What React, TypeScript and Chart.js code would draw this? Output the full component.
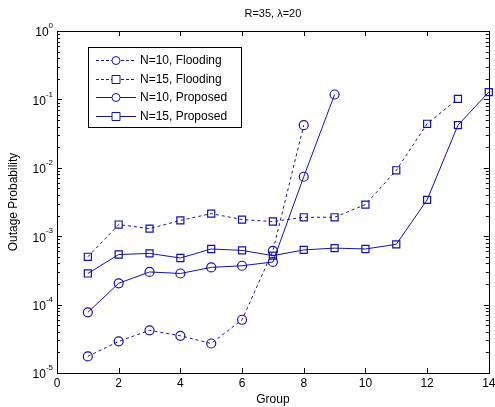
import React, { useEffect, useRef } from "react";
import { Chart, registerables } from "chart.js";

Chart.register(...registerables);

const groups = [1, 2, 3, 4, 5, 6, 7, 8, 9, 10, 11, 12, 13, 14];
const n10Flooding = [1.75e-5, 2.9e-5, 4.2e-5, 3.5e-5, 2.7e-5, 6.0e-5, 6.1e-4, 4.2e-2];
const n15Flooding = [5.0e-4, 1.48e-3, 1.29e-3, 1.7e-3, 2.14e-3, 1.75e-3, 1.64e-3, 1.89e-3, 1.89e-3, 2.9e-3, 9.2e-3, 4.4e-2, 1.02e-1];
const n10Proposed = [7.7e-5, 2.05e-4, 3.0e-4, 2.85e-4, 3.5e-4, 3.7e-4, 4.2e-4, 7.4e-3, 1.18e-1];
const n15Proposed = [2.85e-4, 5.4e-4, 5.6e-4, 4.8e-4, 6.5e-4, 6.2e-4, 5.2e-4, 6.3e-4, 6.7e-4, 6.5e-4, 7.6e-4, 3.4e-3, 4.2e-2, 1.28e-1];
const seriesNames = ["N=10, Flooding", "N=15, Flooding", "N=10, Proposed", "N=15, Proposed"];
const xTicks = [0, 2, 4, 6, 8, 10, 12, 14];
const yExponents = [-5, -4, -3, -2, -1, 0];
const titleText = "R=35, \u03bb=20";
const xTitle = "Group";
const yTitle = "Outage Probability";

const BLUE = "#1212b4";
const FONT = "Arial, 'Liberation Sans', sans-serif";

const toPoints = (vals: number[]) => vals.map((v, i) => ({ x: groups[i], y: v }));

const overlay = {
  id: "overlay",
  afterDraw(chart: any) {
    const ctx = chart.ctx as CanvasRenderingContext2D;
    const a = chart.chartArea;
    const xs = chart.scales.x;
    const ys = chart.scales.y;
    ctx.save();
    ctx.strokeStyle = "#000";
    ctx.lineWidth = 1;
    ctx.strokeRect(Math.round(a.left) + 0.5, Math.round(a.top) + 0.5, Math.round(a.right - a.left), Math.round(a.bottom - a.top));
    ctx.beginPath();
    xTicks.forEach((t) => {
      const px = Math.round(xs.getPixelForValue(t)) + 0.5;
      ctx.moveTo(px, a.bottom);
      ctx.lineTo(px, a.bottom - 5);
      ctx.moveTo(px, a.top);
      ctx.lineTo(px, a.top + 5);
    });
    yExponents.forEach((e) => {
      const py = Math.round(ys.getPixelForValue(Math.pow(10, e))) + 0.5;
      ctx.moveTo(a.left, py);
      ctx.lineTo(a.left + 5, py);
      ctx.moveTo(a.right, py);
      ctx.lineTo(a.right - 5, py);
      if (e < 0) {
        for (let m = 2; m <= 9; m++) {
          const pm = Math.round(ys.getPixelForValue(m * Math.pow(10, e))) + 0.5;
          ctx.moveTo(a.left, pm);
          ctx.lineTo(a.left + 3, pm);
          ctx.moveTo(a.right, pm);
          ctx.lineTo(a.right - 3, pm);
        }
      }
    });
    ctx.stroke();
    ctx.fillStyle = "#000";
    ctx.font = `12px ${FONT}`;
    ctx.textAlign = "center";
    ctx.textBaseline = "top";
    xTicks.forEach((t) => {
      ctx.fillText(String(t), xs.getPixelForValue(t), a.bottom + 5);
    });
    yExponents.forEach((e) => {
      const py = ys.getPixelForValue(Math.pow(10, e));
      const exp = String(e);
      ctx.font = `8px ${FONT}`;
      const ew = ctx.measureText(exp).width;
      ctx.font = `12px ${FONT}`;
      const bw = ctx.measureText("10").width;
      const right = a.left - 4;
      ctx.textAlign = "left";
      ctx.textBaseline = "middle";
      ctx.fillText("10", right - ew - bw, py + 2);
      ctx.font = `8px ${FONT}`;
      ctx.fillText(exp, right - ew, py - 5);
    });
    ctx.font = `11px ${FONT}`;
    ctx.textAlign = "center";
    ctx.textBaseline = "middle";
    ctx.fillText(titleText, (a.left + a.right) / 2, 14);
    ctx.font = `12px ${FONT}`;
    ctx.fillText(xTitle, (a.left + a.right) / 2, 400);
    ctx.save();
    ctx.translate(14, (a.top + a.bottom) / 2);
    ctx.rotate(-Math.PI / 2);
    ctx.fillText(yTitle, 0, 0);
    ctx.restore();
    const lx = 88, ly = 47, lw = 153, lh = 80;
    ctx.fillStyle = "#fff";
    ctx.fillRect(lx, ly, lw, lh);
    ctx.strokeStyle = "#000";
    ctx.strokeRect(lx + 0.5, ly + 0.5, lw, lh);
    const rows = [60, 79, 97, 116];
    seriesNames.forEach((name, i) => {
      const y = rows[i] + 0.5;
      ctx.strokeStyle = BLUE;
      ctx.lineWidth = 1;
      ctx.setLineDash(i < 2 ? [3, 2] : []);
      ctx.beginPath();
      ctx.moveTo(96, y);
      ctx.lineTo(136, y);
      ctx.stroke();
      ctx.setLineDash([]);
      const mx = 116;
      ctx.fillStyle = "#fff";
      ctx.beginPath();
      if (i % 2 === 0) {
        ctx.arc(mx, y, 4, 0, Math.PI * 2);
      } else {
        ctx.rect(mx - 4, y - 4, 8, 8);
      }
      ctx.fill();
      ctx.stroke();
      ctx.fillStyle = "#000";
      ctx.font = `12px ${FONT}`;
      ctx.textAlign = "left";
      ctx.textBaseline = "middle";
      ctx.fillText(name, 140, y);
    });
    ctx.restore();
  },
};

export default function App() {
  const ref = useRef<HTMLCanvasElement>(null);
  useEffect(() => {
    document.body.style.margin = "0";
    const mk = (label: string, vals: number[], dashed: boolean, style: string) => ({
      label,
      data: toPoints(vals),
      borderColor: BLUE,
      backgroundColor: "rgba(255,255,255,0)",
      borderWidth: 1,
      borderDash: dashed ? [3, 3] : [],
      pointStyle: style,
      pointRadius: style === "rect" ? 5 : 4.5,
      pointBorderColor: BLUE,
      pointBackgroundColor: "rgba(255,255,255,0)",
      pointBorderWidth: 1.2,
      tension: 0,
      fill: false,
      clip: false,
    });
    const chart = new Chart(ref.current!, {
      type: "line",
      data: {
        datasets: [
          mk(seriesNames[0], n10Flooding, true, "circle"),
          mk(seriesNames[1], n15Flooding, true, "rect"),
          mk(seriesNames[2], n10Proposed, false, "circle"),
          mk(seriesNames[3], n15Proposed, false, "rect"),
        ] as any,
      },
      options: {
        animation: false,
        responsive: false,
        layout: { padding: { top: 31, right: 4, left: 0, bottom: 0 } },
        plugins: { legend: { display: false }, title: { display: false }, tooltip: { enabled: false } },
        scales: {
          x: {
            type: "linear",
            min: 0,
            max: 14,
            grid: { display: false },
            border: { display: false },
            ticks: { display: false },
            afterFit: (s: any) => { s.height = 34; },
          },
          y: {
            type: "logarithmic",
            min: 1e-5,
            max: 1,
            grid: { display: false },
            border: { display: false },
            ticks: { display: false },
            afterFit: (s: any) => { s.width = 57; },
          },
        },
      } as any,
      plugins: [overlay],
    });
    return () => chart.destroy();
  }, []);
  return <canvas ref={ref} width={495} height={407} style={{ display: "block" }} />;
}
